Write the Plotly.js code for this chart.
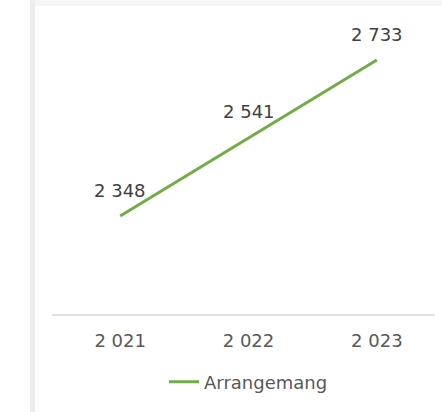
<!DOCTYPE html>
<html>
<head>
<meta charset="utf-8">
<script src="https://cdn.plot.ly/plotly-3.0.1.min.js"></script>
<style>
  html, body { margin: 0; padding: 0; background: #ffffff; }
  #wrap { position: relative; width: 442px; height: 412px; overflow: hidden; }
  #chart { position: absolute; left: 0; top: 0; width: 442px; height: 412px; }
  #lborder { position: absolute; left: 30px; top: 0; width: 5px; height: 412px; background: #ededed; }
  #tborder { position: absolute; left: 30px; top: 0; width: 412px; height: 6px; background: #f5f5f5; }
</style>
</head>
<body>
<div id="wrap">
  <div id="chart"></div>
  <div id="tborder"></div>
  <div id="lborder"></div>
</div>
<script>
const years = ['2 021', '2 022', '2 023'];
const arrangemang = [2348, 2541, 2733];
const seriesName = 'Arrangemang';

function fmt(v) {
  return String(v).replace(/\B(?=(\d{3})+(?!\d))/g, ' ');
}

const trace = {
  type: 'scatter',
  mode: 'lines',
  x: years,
  y: arrangemang,
  name: seriesName,
  line: { color: '#70ad47', width: 3 },
  hoverinfo: 'skip'
};

const annotations = years.map((yr, i) => ({
  x: yr,
  y: arrangemang[i],
  xref: 'x',
  yref: 'y',
  text: fmt(arrangemang[i]),
  showarrow: false,
  yshift: 26,
  font: { family: 'DejaVu Sans, sans-serif', size: 18, color: '#404040' }
}));

const layout = {
  width: 442,
  height: 412,
  margin: { l: 56, r: 1, t: 13, b: 97 },
  paper_bgcolor: 'rgba(0,0,0,0)',
  plot_bgcolor: 'rgba(0,0,0,0)',
  showlegend: true,
  font: { family: 'DejaVu Sans, sans-serif', size: 18, color: '#595959' },
  xaxis: {
    type: 'category',
    range: [-0.5, 2.5],
    showline: false,
    showgrid: false,
    zeroline: false,
    ticks: 'outside',
    ticklen: 9,
    tickcolor: 'rgba(0,0,0,0)',
    tickfont: { family: 'DejaVu Sans, sans-serif', size: 18, color: '#595959' },
    fixedrange: true
  },
  yaxis: {
    range: [2104, 2849],
    visible: false,
    showgrid: false,
    zeroline: false,
    fixedrange: true
  },
  shapes: [{
    type: 'line',
    xref: 'paper',
    yref: 'paper',
    x0: -0.0104,
    x1: 0.984,
    y0: 0,
    y1: 0,
    line: { color: '#d9d9d9', width: 1.5 }
  }],
  legend: {
    orientation: 'h',
    x: 0.5,
    xanchor: 'center',
    y: -0.222,
    yanchor: 'middle',
    font: { family: 'DejaVu Sans, sans-serif', size: 18, color: '#595959' },
    bgcolor: 'rgba(0,0,0,0)'
  },
  annotations: annotations
};

Plotly.newPlot('chart', [trace], layout, { displayModeBar: false, staticPlot: true });
</script>
</body>
</html>
